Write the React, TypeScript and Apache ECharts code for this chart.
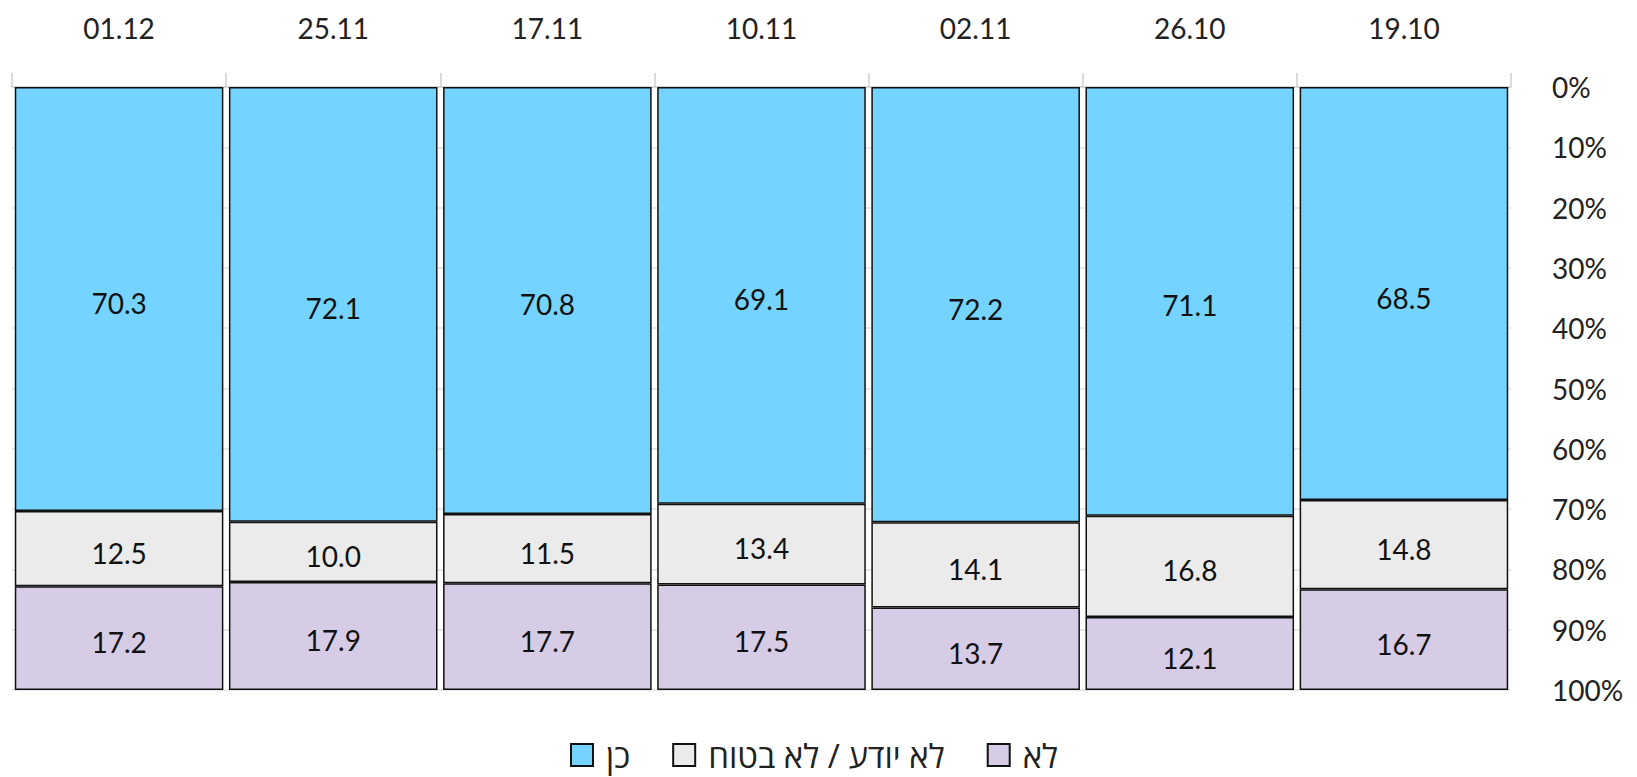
import React, { useEffect, useRef } from "react";
import * as echarts from "echarts";

const categories = ["01.12", "25.11", "17.11", "10.11", "02.11", "26.10", "19.10"];
const yesValues = [70.3, 72.1, 70.8, 69.1, 72.2, 71.1, 68.5];
const unsureValues = [12.5, 10.0, 11.5, 13.4, 14.1, 16.8, 14.8];
const noValues = [17.2, 17.9, 17.7, 17.5, 13.7, 12.1, 16.7];
const seriesNames = ["כן", "לא יודע / לא בטוח", "לא"];
const seriesColors = ["#75D4FF", "#EBEBEB", "#D6CCE6"];

const FONT = "Lato, 'Open Sans', 'DejaVu Sans', sans-serif";

export default function App() {
  const ref = useRef<HTMLDivElement>(null);
  useEffect(() => {
    if (!ref.current) return;
    const chart = echarts.init(ref.current, undefined, { renderer: "svg" });
    const values = [yesValues, unsureValues, noValues];
    chart.setOption({
      animation: false,
      textStyle: { fontFamily: FONT },
      grid: { left: 12, right: 126, top: 87, bottom: 87, containLabel: false },
      legend: {
        top: 737,
        left: 570,
        padding: 0,
        itemWidth: 22,
        itemHeight: 22,
        itemGap: 42,
        icon: "rect",
        data: seriesNames,
        textStyle: {
          fontSize: 33,
          lineHeight: 36,
          color: "#222",
          fontFamily: "'Open Sans', 'DejaVu Sans', sans-serif",
          padding: [0, 0, 0, 8],
        },
      },
      xAxis: {
        type: "category",
        position: "top",
        data: categories,
        axisLine: { show: true, lineStyle: { color: "#d0d0d0", width: 1.5 } },
        axisTick: { show: true, length: 14, lineStyle: { color: "#d0d0d0", width: 1.5 } },
        axisLabel: { fontSize: 28, color: "#222", margin: 45, fontFamily: FONT },
      },
      yAxis: {
        type: "value",
        position: "right",
        inverse: true,
        min: 0,
        max: 100,
        interval: 10,
        axisLine: { show: false },
        axisTick: { show: false },
        splitLine: { show: true, lineStyle: { color: "#e0e0e0", width: 1.5 } },
        axisLabel: {
          fontSize: 28,
          color: "#222",
          margin: 41,
          align: "left",
          fontFamily: FONT,
          formatter: "{value}%",
        },
      },
      series: seriesNames.map((name, i) => ({
        name,
        type: "bar",
        stack: "total",
        barCategoryGap: "2.6%",
        data: values[i],
        itemStyle: { color: seriesColors[i], borderColor: "#111", borderWidth: 1.5 },
        label: {
          show: true,
          position: "inside",
          offset: [0, 4],
          fontSize: 28,
          color: "#111",
          fontFamily: FONT,
          formatter: (p: any) => Number(p.value).toFixed(1),
        },
      })),
    });
    return () => chart.dispose();
  }, []);
  return (
    <div
      ref={ref}
      style={{ position: "fixed", left: 0, top: 0, width: 1637, height: 777, background: "#fff" }}
    />
  );
}
